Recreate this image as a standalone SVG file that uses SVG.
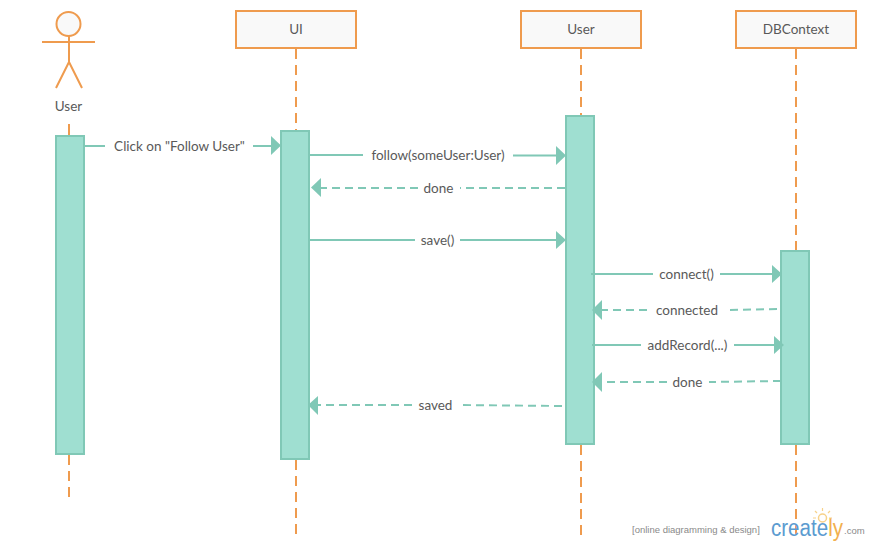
<svg xmlns="http://www.w3.org/2000/svg" width="870" height="545" viewBox="0 0 870 545">
<style>
.lab{font-family:Lato,"Liberation Sans",sans-serif;font-size:13.5px;fill:#595959;text-anchor:middle}
.box{fill:#f9f9f9;stroke:#ef9b4e;stroke-width:2}
.life{stroke:#ef9b4e;stroke-width:2;fill:none;stroke-dasharray:10 6}
.orange{stroke:#ef9b4e;stroke-width:2;fill:none}
.act{fill:#9fdfd1;stroke:#80c8b6;stroke-width:2}
.msg{stroke:#80c8b6;stroke-width:2;fill:none}
.dash{stroke:#80c8b6;stroke-width:2;fill:none;stroke-dasharray:8 5}
.head{fill:#80c8b6}
</style>
<g id="lifelines">
<path class="orange" d="M69 124V136"/>
<path class="life" d="M69 455V500"/>
<path class="life" d="M296 49V130"/>
<path class="life" d="M296 460V535"/>
<path class="life" d="M581 49V115"/>
<path class="life" d="M581 445V535"/>
<path class="life" d="M796 49V250"/>
<path class="life" d="M796 445V535"/>
</g>
<g id="actor-user">
<circle cx="68.500" cy="24" r="12" fill="#f9f9f9" stroke="#ef9b4e" stroke-width="2"/>
<path class="orange" d="M42 42H95M69 36V62M69 62L56 88M69 62L82 88"/>
<text class="lab" x="68.500" y="111">User</text>
</g>
<g id="node-ui">
<rect class="box" x="236" y="11" width="120" height="37"/>
<text class="lab" x="296" y="34">UI</text>
</g>
<g id="node-user">
<rect class="box" x="521" y="11" width="120" height="37"/>
<text class="lab" x="581" y="34">User</text>
</g>
<g id="node-dbcontext">
<rect class="box" x="736" y="11" width="120" height="37"/>
<text class="lab" x="796" y="34">DBContext</text>
</g>
<g id="activation-user"><rect class="act" x="56" y="136" width="28" height="318"/></g>
<g id="activation-ui"><rect class="act" x="281" y="131" width="28" height="328"/></g>
<g id="activation-model"><rect class="act" x="566" y="116" width="28" height="328"/></g>
<g id="activation-db"><rect class="act" x="781" y="251" width="28" height="193"/></g>
<g id="connectors">
<path class="msg" d="M85 146H105M253 146H271"/>
<polygon class="head" points="271,136 281,145.500 271,155"/>
<path class="msg" d="M310 155H363M513 155.500H556"/>
<polygon class="head" points="556,146 566,155.500 556,165"/>
<path class="dash" d="M565 188H460M418 188H320"/>
<polygon class="head" points="321,178 311,187.500 321,197"/>
<path class="msg" d="M310 240H415M460 240H556"/>
<polygon class="head" points="556,231 566,240 556,249"/>
<path class="msg" d="M591 274H653M720 274H772"/>
<polygon class="head" points="772,265 782,274 772,283"/>
<path class="dash" d="M777 309L725 310M647 310H602"/>
<polygon class="head" points="602,300 592,310 602,320"/>
<path class="msg" d="M592 345H641M734 345H774"/>
<polygon class="head" points="774,336 784,345 774,354"/>
<path class="dash" d="M781 381L709 382M667 382H602"/>
<polygon class="head" points="602,372 592,382 602,392"/>
<path class="dash" d="M562 406L458 405M412 405H318"/>
<polygon class="head" points="318,396 308,405 318,415"/>
</g>
<g id="labels">
<text class="lab" x="179.500" y="151">Click on "Follow User"</text>
<text class="lab" x="438" y="160">follow(someUser:User)</text>
<text class="lab" x="438.500" y="193">done</text>
<text class="lab" x="437.500" y="245">save()</text>
<text class="lab" x="686.500" y="279">connect()</text>
<text class="lab" x="687" y="315">connected</text>
<text class="lab" x="687.500" y="350">addRecord(...)</text>
<text class="lab" x="687.500" y="387">done</text>
<text class="lab" x="435.500" y="410">saved</text>
</g>
<g id="logo">
<text x="632" y="533" font-family="Liberation Sans,sans-serif" font-size="9.500" fill="#8a8a8a">[online diagramming &amp; design]</text>
<text x="771" y="536" font-family="Liberation Sans,sans-serif" font-size="23" fill="#5b9bd0" textLength="72" lengthAdjust="spacingAndGlyphs">creat<tspan fill="#5b9bd0">e</tspan><tspan fill="#f2b04f">ly</tspan></text>
<text x="844" y="534" font-family="Liberation Sans,sans-serif" font-size="9.500" fill="#8a8a8a">.com</text>
<circle cx="822.500" cy="518" r="4" fill="none" stroke="#f7d28a" stroke-width="1.500"/>
<path d="M822.500 508V511M815 511L817 513M830 511L828 513M813 518H816M829 518H832" stroke="#f7d28a" stroke-width="1.200" fill="none"/>
</g>
</svg>
